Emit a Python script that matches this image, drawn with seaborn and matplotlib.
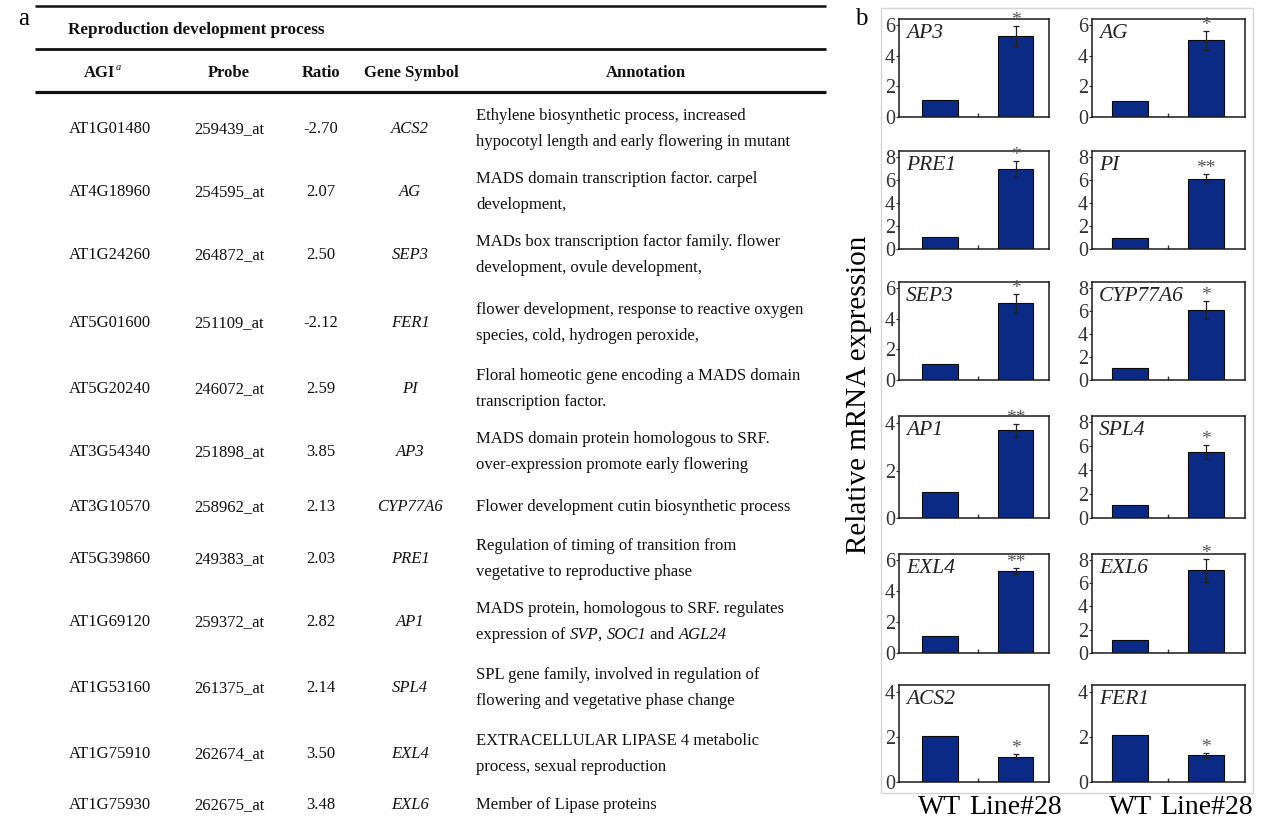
import matplotlib
matplotlib.use("Agg")
import matplotlib.pyplot as plt
import matplotlib.patches as mpatches
import seaborn as sns
import pandas as pd

# ---------------- data: panel a (table) ----------------
table_title = "Reproduction development process"
col_headers = ["AGI", "Probe", "Ratio", "Gene Symbol", "Annotation"]
agi_ids = ["AT1G01480", "AT4G18960", "AT1G24260", "AT5G01600", "AT5G20240", "AT3G54340",
           "AT3G10570", "AT5G39860", "AT1G69120", "AT1G53160", "AT1G75910", "AT1G75930"]
probes = ["259439_at", "254595_at", "264872_at", "251109_at", "246072_at", "251898_at",
          "258962_at", "249383_at", "259372_at", "261375_at", "262674_at", "262675_at"]
ratios = ["-2.70", "2.07", "2.50", "-2.12", "2.59", "3.85", "2.13", "2.03", "2.82", "2.14", "3.50", "3.48"]
gene_symbols = ["ACS2", "AG", "SEP3", "FER1", "PI", "AP3", "CYP77A6", "PRE1", "AP1", "SPL4", "EXL4", "EXL6"]
annotations = [
    ["Ethylene biosynthetic process, increased", "hypocotyl length and early flowering in mutant"],
    ["MADS domain transcription factor. carpel", "development,"],
    ["MADs box transcription factor family. flower", "development, ovule development,"],
    ["flower development, response to reactive oxygen", "species, cold, hydrogen peroxide,"],
    ["Floral homeotic gene encoding a MADS domain", "transcription factor."],
    ["MADS domain protein homologous to SRF.", "over-expression promote early flowering"],
    ["Flower development cutin biosynthetic process"],
    ["Regulation of timing of transition from", "vegetative to reproductive phase"],
    ["MADS protein, homologous to SRF. regulates", "expression of *SVP*, *SOC1* and *AGL24*"],
    ["SPL gene family, involved in regulation of", "flowering and vegetative phase change"],
    ["EXTRACELLULAR LIPASE 4 metabolic", "process, sexual reproduction"],
    ["Member of Lipase proteins"],
]

# ---------------- data: panel b (qRT-PCR bars) ----------------
groups = ["WT", "Line#28"]
genes_b = ["AP3", "AG", "PRE1", "PI", "SEP3", "CYP77A6", "AP1", "SPL4", "EXL4", "EXL6", "ACS2", "FER1"]
wt_values = [1.08, 1.05, 1.08, 0.95, 1.05, 1.05, 1.08, 1.10, 1.12, 1.12, 2.05, 2.10]
line_values = [5.30, 5.00, 6.95, 6.10, 5.00, 6.10, 3.69, 5.50, 5.28, 7.10, 1.12, 1.18]
line_errors = [0.67, 0.60, 0.72, 0.38, 0.60, 0.78, 0.28, 0.60, 0.20, 1.00, 0.12, 0.12]
significance = ["*", "*", "*", "**", "*", "*", "**", "*", "**", "*", "*", "*"]
y_tick_max = [6, 6, 8, 8, 6, 8, 4, 8, 6, 8, 4, 4]
y_label_b = "Relative mRNA expression"

# ---------------- style ----------------
sns.set_theme(style="white")
SERIF = ["Liberation Serif", "DejaVu Serif"]
plt.rcParams["font.family"] = SERIF

W, H = 1265, 822
fig = plt.figure(figsize=(W / 100, H / 100), dpi=100)
fig.patch.set_facecolor("white")

# ---------------- panel a ----------------
axt = fig.add_axes([0, 0, 1, 1])
axt.set_xlim(0, W)
axt.set_ylim(H, 0)
axt.axis("off")

INK = "#111111"
axt.text(18, 25, "a", fontsize=18, ha="left", va="baseline", color="black")
for yy, lw in [(6, 1.8), (49, 2.0), (92, 2.3)]:
    axt.plot([35, 826], [yy, yy], color=INK, lw=lw, solid_capstyle="butt")

FS = 12.0
BL = 5  # baseline offset from visual row centre (px)
axt.text(68, 29 + BL, table_title, fontsize=12.3, fontweight="bold", ha="left",
         va="baseline", color=INK)
hdr_y = 72 + BL
axt.text(115, hdr_y, col_headers[0], fontsize=FS, fontweight="bold", ha="right",
         va="baseline", color=INK)
axt.text(116, hdr_y - 7, "a", fontsize=7.5, fontstyle="italic", ha="left", va="baseline",
         color=INK)
hdr_x = [None, 229, 321, 411, 646]
for i in range(1, 5):
    axt.text(hdr_x[i], hdr_y, col_headers[i], fontsize=FS, fontweight="bold", ha="center",
             va="baseline", color=INK)

row_y = [128, 191, 254, 322, 388, 451, 506, 558, 621, 687, 753, 804]
renderer = fig.canvas.get_renderer()


def seg_width(s, **kw):
    t1 = axt.text(0, 0, "|" + s + "|", fontsize=FS, **kw)
    t2 = axt.text(0, 0, "||", fontsize=FS, **kw)
    w = t1.get_window_extent(renderer).width - t2.get_window_extent(renderer).width
    t1.remove()
    t2.remove()
    return w


for i in range(len(agi_ids)):
    y = row_y[i] + BL
    axt.text(69, y, agi_ids[i], fontsize=FS, ha="left", va="baseline", color=INK)
    axt.text(194, y, probes[i], fontsize=FS, ha="left", va="baseline", color=INK)
    axt.text(321, y, ratios[i], fontsize=FS, ha="center", va="baseline", color=INK)
    axt.text(410, y, gene_symbols[i], fontsize=FS, fontstyle="italic", ha="center",
             va="baseline", color=INK)
    lines = annotations[i]
    ys = [y] if len(lines) == 1 else [y - 13, y + 13]
    for ln, yl in zip(lines, ys):
        parts = ln.split("*")
        x = 476
        for k, p in enumerate(parts):
            if not p:
                continue
            style = "italic" if k % 2 == 1 else "normal"
            axt.text(x, yl, p, fontsize=FS, fontstyle=style, ha="left", va="baseline",
                     color=INK)
            x += seg_width(p, fontstyle=style)

# ---------------- panel b ----------------
fig.text(855 / W, 1 - 25 / H, "b", fontsize=18, ha="left", va="baseline", color="black")
frame = mpatches.Rectangle((881 / W, 1 - 793 / H), (1253 - 881) / W, (793 - 8) / H,
                           transform=fig.transFigure, fill=False, edgecolor="#d6d6d6", lw=1.0)
fig.patches.append(frame)
fig.text(859 / W, 1 - 395 / H, y_label_b, rotation=90, fontsize=21, ha="center",
         va="center", color="black")

col_px = [(899, 1049, (-0.54, 1.44)), (1092, 1245, (-0.50, 1.51))]
row_px = [(19, 117), (151, 249), (282, 380), (416, 518), (554, 653), (685, 782)]
ylim_pad = {4: 4.3, 6: 6.4, 8: 8.5}
NAVY = "#0b2a86"

for i, gene in enumerate(genes_b):
    r, c = divmod(i, 2)
    x0, x1, xl = col_px[c]
    t, b = row_px[r]
    ax = fig.add_axes([x0 / W, 1 - b / H, (x1 - x0) / W, (b - t) / H])
    df = pd.DataFrame({"group": groups, "value": [wt_values[i], line_values[i]]})
    sns.barplot(data=df, x="group", y="value", ax=ax, color=NAVY, saturation=1,
                width=0.47, edgecolor="#0a0a0a", linewidth=0.8)
    ax.errorbar([1], [line_values[i]], yerr=[line_errors[i]], fmt="none",
                ecolor="#222222", elinewidth=0.9, capsize=2, capthick=0.9)
    top = line_values[i] + line_errors[i]
    ax.annotate(significance[i], xy=(1, top), xytext=(0, 4), textcoords="offset points",
                ha="center", va="center", fontsize=14, color="#555555")
    ax.set_xlim(*xl)
    ym = y_tick_max[i]
    ax.set_ylim(0, ylim_pad[ym])
    ax.set_yticks(list(range(0, ym + 1, 2)))
    ax.tick_params(axis="y", which="major", direction="out", length=2, width=0.8,
                   labelsize=14.5, pad=1, colors="#333333", left=True)
    ax.set_xticks([0.5], minor=True)
    ax.tick_params(axis="x", which="minor", direction="in", length=3, width=1.0,
                   bottom=True, color="#333333")
    if r == 5:
        ax.set_xticks([0, 1])
        ax.set_xticklabels(groups)
        ax.tick_params(axis="x", which="major", length=0, labelsize=20, pad=9,
                       colors="black")
    else:
        ax.set_xticks([])
    ax.set_xlabel("")
    ax.set_ylabel("")
    for sp in ax.spines.values():
        sp.set_visible(True)
        sp.set_color("#1a1a1a")
        sp.set_linewidth(1.1)
    ax.text(0.047, 0.95, gene, transform=ax.transAxes, fontsize=15.5, fontstyle="italic",
            ha="left", va="top", color="#222222")
    ax.set_facecolor("white")

fig.savefig("out.png", dpi=100, facecolor="white")
